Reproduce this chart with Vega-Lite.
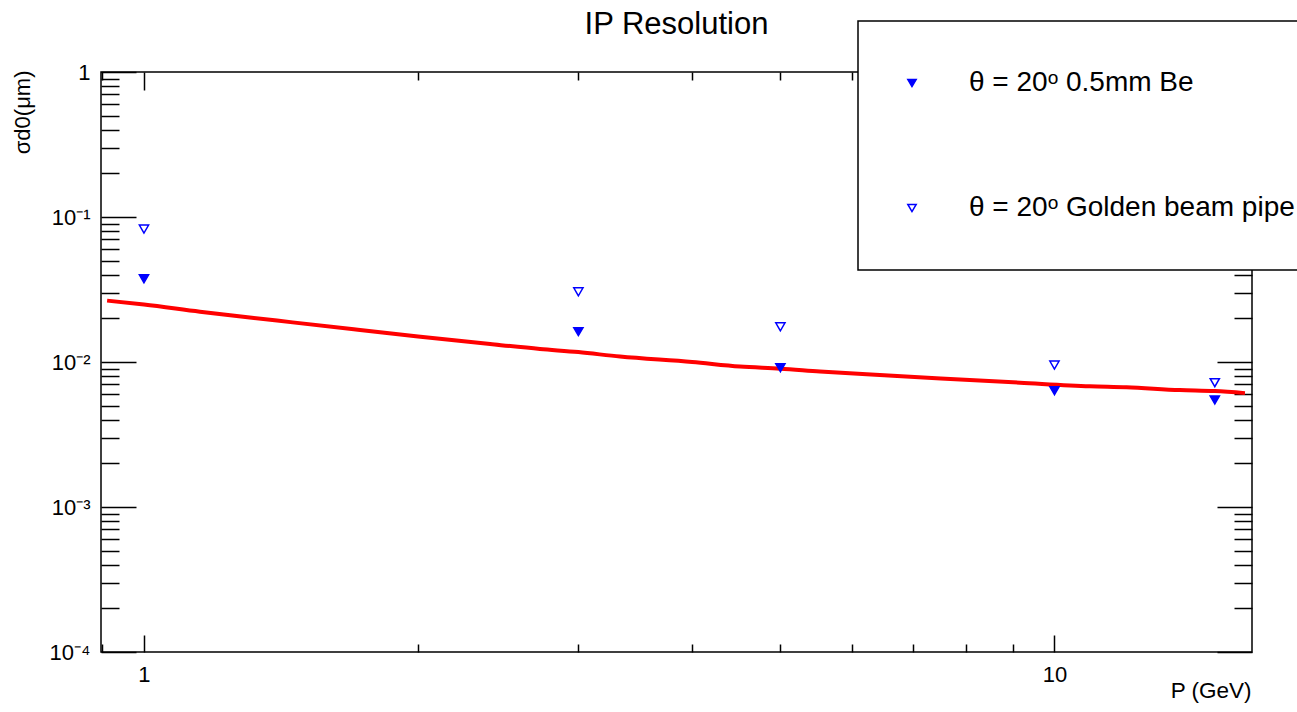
{
  "$schema": "https://vega.github.io/schema/vega-lite/v6.json",
  "autosize": {"type": "none"},
  "width": 1151,
  "height": 580,
  "padding": {"left": 101, "top": 72, "right": 45, "bottom": 60},
  "background": "#ffffff",
  "datasets": {
    "fit": [
      {"p": 0.911, "s": 0.0265},
      {"p": 1.0, "s": 0.0249},
      {"p": 1.152, "s": 0.0222},
      {"p": 1.4, "s": 0.0193},
      {"p": 1.7, "s": 0.0168},
      {"p": 2.0, "s": 0.0150},
      {"p": 2.4, "s": 0.0133},
      {"p": 2.722, "s": 0.0123},
      {"p": 3.0, "s": 0.0117},
      {"p": 3.333, "s": 0.0109},
      {"p": 4.0, "s": 0.0100},
      {"p": 4.514, "s": 0.0093},
      {"p": 5.0, "s": 0.0090},
      {"p": 5.526, "s": 0.0086},
      {"p": 6.5, "s": 0.0081},
      {"p": 7.5, "s": 0.0077},
      {"p": 9.165, "s": 0.0072},
      {"p": 10.94, "s": 0.0068},
      {"p": 12.0, "s": 0.0067},
      {"p": 13.73, "s": 0.0064},
      {"p": 15.0, "s": 0.0063},
      {"p": 16.19, "s": 0.0061}
    ],
    "points": [
      {"p": 1, "s": 0.0375, "series": "θ = 20ᵒ 0.5mm Be"},
      {"p": 3, "s": 0.0162, "series": "θ = 20ᵒ 0.5mm Be"},
      {"p": 5, "s": 0.00914, "series": "θ = 20ᵒ 0.5mm Be"},
      {"p": 10, "s": 0.00634, "series": "θ = 20ᵒ 0.5mm Be"},
      {"p": 15, "s": 0.00547, "series": "θ = 20ᵒ 0.5mm Be"},
      {"p": 1, "s": 0.0826, "series": "θ = 20ᵒ Golden beam pipe"},
      {"p": 3, "s": 0.0305, "series": "θ = 20ᵒ Golden beam pipe"},
      {"p": 5, "s": 0.0175, "series": "θ = 20ᵒ Golden beam pipe"},
      {"p": 10, "s": 0.00953, "series": "θ = 20ᵒ Golden beam pipe"},
      {"p": 15, "s": 0.0072, "series": "θ = 20ᵒ Golden beam pipe"}
    ]
  },
  "layer": [
    {
      "data": {"name": "fit"},
      "mark": {"type": "line", "color": "#ff0000", "strokeWidth": 4, "interpolate": "monotone"},
      "encoding": {
        "x": {"field": "p", "type": "quantitative", "scale": {"type": "log", "domain": [0.897, 16.48], "nice": false},
          "axis": {"orient": "bottom", "values": [1, 10], "ticks": false, "domain": false, "grid": false, "labelPadding": 12, "labelExpr": "datum.value < 5 ? '1' : '10'", "labelBaseline": "top",
            "title": "P (GeV)", "titleFontSize": 22.5, "titleFont": "Liberation Sans", "titleFontWeight": "normal", "titleColor": "#000000", "titleAnchor": "end", "titleAlign": "right", "titleX": 1150, "titleY": 45, "titleBaseline": "alphabetic"}},
        "y": {"field": "s", "type": "quantitative", "scale": {"type": "log", "domain": [0.0001, 1], "nice": false},
          "axis": {"orient": "left", "values": [0.0001, 0.001, 0.01, 0.1, 1], "ticks": false, "domain": false, "grid": false, "labelPadding": 11,
            "labelExpr": "datum.value > 0.5 ? '1' : datum.value > 0.05 ? '10⁻¹' : datum.value > 0.005 ? '10⁻²' : datum.value > 0.0005 ? '10⁻³' : '10⁻⁴'",
            "title": "σd0(μm)", "titleFontSize": 22, "titleFont": "Liberation Sans", "titleFontWeight": "normal", "titleColor": "#000000", "titleAngle": -90, "titleAlign": "right", "titleBaseline": "alphabetic", "titleX": -72, "titleY": -2}}
      }
    },
    {
      "data": {"name": "points"},
      "mark": {"type": "point", "shape": "triangle-down", "size": 85, "stroke": "#0000ff", "strokeWidth": 1.5, "opacity": 1, "fillOpacity": 1},
      "encoding": {
        "x": {"field": "p", "type": "quantitative", "axis": {"orient": "bottom", "values": [1, 10], "labels": false, "domain": false, "grid": false, "tickSize": 17, "offset": -17, "title": null}},
        "y": {"field": "s", "type": "quantitative", "axis": {"orient": "left", "values": [0.0001, 0.001, 0.01, 0.1, 1], "labels": false, "domain": false, "grid": false, "tickSize": 35, "offset": -35, "title": null}},
        "fill": {"field": "series", "type": "nominal",
          "scale": {"domain": ["θ = 20ᵒ 0.5mm Be", "θ = 20ᵒ Golden beam pipe"], "range": ["#0000ff", "transparent"]},
          "legend": {"orient": "none", "legendX": 757, "legendY": -51, "title": null, "zindex": 3,
            "strokeColor": "#000000", "fillColor": "#ffffff", "padding": 48, "labelFont": "Liberation Sans", "labelFontSize": 28, "labelColor": "#000000", "labelLimit": 1000,
            "symbolType": "triangle-down", "symbolSize": 70, "symbolStrokeColor": "#0000ff", "symbolStrokeWidth": 1.5, "symbolOffset": -8, "labelOffset": 43, "rowPadding": 97}}
      }
    },
    {
      "data": {"name": "points"},
      "mark": {"type": "point", "opacity": 0},
      "encoding": {
        "x": {"field": "p", "type": "quantitative", "axis": {"orient": "bottom", "values": [0.9, 2, 3, 4, 5, 6, 7, 8, 9], "labels": false, "domain": false, "grid": false, "tickSize": 8, "offset": -8, "title": null}},
        "y": {"field": "s", "type": "quantitative", "axis": {"orient": "left", "values": [0.0002, 0.0003, 0.0004, 0.0005, 0.0006, 0.0007, 0.0008, 0.0009, 0.002, 0.003, 0.004, 0.005, 0.006, 0.007, 0.008, 0.009, 0.02, 0.03, 0.04, 0.05, 0.06, 0.07, 0.08, 0.09, 0.2, 0.3, 0.4, 0.5, 0.6, 0.7, 0.8, 0.9], "labels": false, "domain": false, "grid": false, "tickSize": 18, "offset": -18, "title": null}}
      }
    },
    {
      "data": {"name": "points"},
      "mark": {"type": "point", "opacity": 0},
      "encoding": {
        "x": {"field": "p", "type": "quantitative", "axis": {"orient": "top", "values": [1, 10], "labels": false, "domain": false, "grid": false, "tickSize": 18, "offset": -18,
          "title": "IP Resolution", "titleFont": "Liberation Sans", "titleFontSize": 31, "titleFontWeight": "normal", "titleColor": "#000000", "titleAnchor": "middle", "titleAlign": "center", "titleBaseline": "alphabetic", "titleX": 575, "titleY": -57}},
        "y": {"field": "s", "type": "quantitative", "axis": {"orient": "right", "values": [0.0001, 0.001, 0.01, 0.1, 1], "labels": false, "domain": false, "grid": false, "tickSize": 35, "offset": -35, "title": null}}
      }
    },
    {
      "data": {"name": "points"},
      "mark": {"type": "point", "opacity": 0},
      "encoding": {
        "x": {"field": "p", "type": "quantitative", "axis": {"orient": "top", "values": [0.9, 2, 3, 4, 5, 6, 7, 8, 9], "labels": false, "domain": false, "grid": false, "tickSize": 8, "offset": -8, "title": null}},
        "y": {"field": "s", "type": "quantitative", "axis": {"orient": "right", "values": [0.0002, 0.0003, 0.0004, 0.0005, 0.0006, 0.0007, 0.0008, 0.0009, 0.002, 0.003, 0.004, 0.005, 0.006, 0.007, 0.008, 0.009, 0.02, 0.03, 0.04, 0.05, 0.06, 0.07, 0.08, 0.09, 0.2, 0.3, 0.4, 0.5, 0.6, 0.7, 0.8, 0.9], "labels": false, "domain": false, "grid": false, "tickSize": 18, "offset": -18, "title": null}}
      }
    }
  ],
  "resolve": {"axis": {"x": "independent", "y": "independent"}},
  "config": {
    "view": {"stroke": "#000000", "strokeWidth": 1.5},
    "axis": {"labelFont": "Liberation Sans", "labelFontSize": 22, "labelColor": "#000000", "tickColor": "#000000", "tickWidth": 1.5, "zindex": 1, "labelOverlap": false, "labelFlush": false},
    "legend": {"strokeWidth": 1.5}
  }
}
